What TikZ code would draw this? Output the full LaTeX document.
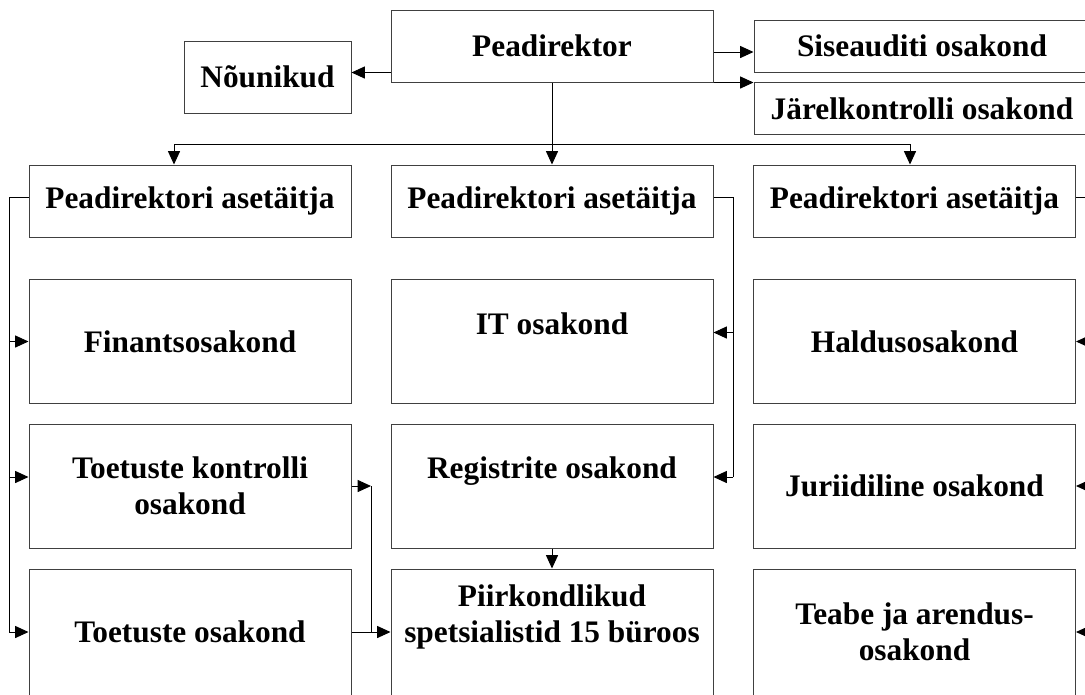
\documentclass[tikz,border=0pt]{standalone}
\usepackage{fontspec}
\setmainfont{Liberation Serif}
\usepackage{tikz}
\usetikzlibrary{arrows.meta}
\usetikzlibrary{positioning}
\usetikzlibrary{calc}

\begin{document}
\begin{tikzpicture}
[x=0.75pt, y=-0.75pt,
 man/.style={rectangle, draw=black!75, line width=0.75pt, align=center, inner sep=0pt, minimum height=54pt, minimum width=241.5pt, font=\bfseries\fontsize{23.5}{27}\selectfont},
 man1/.style={man, minimum height=93pt},
 man2/.style={man, minimum height=39pt, minimum width=252pt},
 arr/.style={-{Triangle[length=10pt,width=9pt]}, line width=0.75pt},
 lin/.style={-, line width=0.75pt}]
\useasboundingbox (0,0) rectangle (1085,694);
\clip (0,0) rectangle (1085,694);
\node[man] (A) at (552,46) {Peadirektor};
\node[man, minimum width=125.25pt] (B) at (267.5,77) {Nõunikud};
\node[man2] (C) at (922,46) {Siseauditi osakond};
\node[man2] (D) at (922,108.5) {Järelkontrolli osakond};
\node[man] (E) at (190,201) {Peadirektori asetäitja};
\node[man] (F) at (552,201) {Peadirektori asetäitja};
\node[man] (G) at (914.5,201) {Peadirektori asetäitja};
\node[man1] (H) at (190,341.5) {Finantsosakond};
\node[man1] (I) at (552,341.5) {IT osakond\\ \mbox{}};
\node[man1] (J) at (914.5,341.5) {Haldusosakond};
\node[man1] (K) at (190,486) {Toetuste kontrolli\\ osakond};
\node[man1] (L) at (552,486) {Registrite osakond\\ \mbox{}};
\node[man1] (M) at (914.5,486) {Juriidiline osakond};
\node[man1, minimum height=94.5pt] (N) at (190,632) {Toetuste osakond};
\node[man1, minimum height=94.5pt] (O) at (552,632) {Piirkondlikud\\ spetsialistid 15 büroos\\ \mbox{}};
\node[man1, minimum height=94.5pt] (P) at (914.5,632) {Teabe ja arendus-\\ osakond};
\coordinate (Q) at (9,197);
\coordinate (R) at (733,197);
\coordinate (S) at (1096,197);
\coordinate (T) at (174,144);
\coordinate (U) at (910,144);
\coordinate (V) at (371,486);
\coordinate (W1) at ($(A.south west)+(0,-10)$);
\coordinate (W2) at ($(A.east)+(0,6)$);
\coordinate (W3) at ($(K.west)+(0,-9)$);
\coordinate (W4) at ($(I.east)+(0,-9)$);
\coordinate (W5) at ($(L.east)+(0,-9)$);
\draw[arr] (W1) -- (W1 -| B.east);
\draw[arr] (W2) -- (W2 -| C.west);
\draw[arr] (A.south east) -- (A.south east -| D.west);
\draw[arr] (A.south) -- (F.north);
\draw[lin] (T) -- (U);
\draw[arr] (T) -- (T |- E.north);
\draw[arr] (U) -- (U |- G.north);
\draw[lin] (E.west |- Q) -- (Q) -- (Q |- N.west);
\draw[arr] (Q |- H.west) -- (H.west);
\draw[arr] (Q |- W3) -- (W3);
\draw[arr] (Q |- N.west) -- (N.west);
\draw[lin] (F.east |- R) -- (R) -- (R |- W5);
\draw[arr] (R |- W4) -- (W4);
\draw[arr] (R |- W5) -- (W5);
\draw[lin] (G.east |- S) -- (S) -- (S |- P.east);
\draw[arr] (S |- J.east) -- (J.east);
\draw[arr] (S |- M.east) -- (M.east);
\draw[arr] (S |- P.east) -- (P.east);
\draw[arr] (K.east) -- (V);
\draw[lin] (V) -- (V |- N.east);
\draw[arr] (N.east) -- (O.west);
\draw[arr] (L.south) -- (O.north);
\end{tikzpicture}
\end{document}
